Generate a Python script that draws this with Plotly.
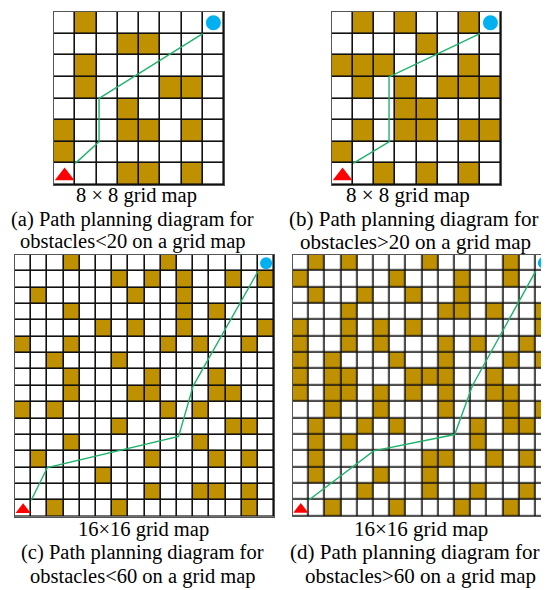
import plotly.graph_objects as go

W, H = 549, 590
OFF = 8  # the page body margin shifts the figure by 8px; compensate

# ---------------- data ----------------
# obstacle columns per row (row 0 = top row)
obs_a = [[1], [3, 4], [1], [1, 5, 6], [3], [0, 3, 4, 6], [0], [3, 4, 6]]
obs_b = [[1, 3, 6], [4], [0, 1, 2, 6], [1, 3, 5, 6, 7], [3, 4], [1, 3, 4, 6, 7], [0], [2, 4, 6]]
obs_c = [[3, 9], [6, 8, 10, 13, 15], [1, 7, 10], [3, 10, 12], [5, 7, 10, 15],
         [0, 3, 9, 11, 14], [2, 6], [3, 8, 12], [3, 7, 8, 12, 13], [0, 2, 9, 11],
         [6, 13, 14], [3, 11], [1, 8, 12, 14], [5], [8, 11, 12, 14], [2, 6, 14]]
obs_d = [[1, 3, 8, 13], [0, 6, 10, 13], [1, 4, 7, 10], [3, 9, 10, 12, 15],
         [0, 3, 5, 7, 15], [0, 3, 5, 9, 11, 14], [0, 2, 6, 9, 13, 15],
         [0, 2, 3, 7, 8, 9, 12], [0, 2, 3, 5, 7, 9, 12, 13], [2, 5, 9, 13, 15],
         [1, 4, 6, 11, 13, 14], [1, 3, 11], [1, 8, 9, 12, 14], [1, 5, 8],
         [4, 8, 11, 14], [2, 6, 10, 13]]

# path vertices (grid units, origin bottom-left)
path_a_x = [1, 2.12, 2.12, 7]
path_a_y = [1, 2, 4, 7]
path_b_x = [1, 2.7, 2.7, 7]
path_b_y = [1, 2, 5, 7]
path_c_x = [1, 2, 10.1, 11, 15]
path_c_y = [1, 3, 4.9, 8, 15]
path_d_x = [1, 5, 10, 11.1, 15]
path_d_y = [1, 4, 5, 8, 15]

size_label_8 = "8 × 8 grid map"
size_label_16 = "16×16 grid map"
caption_line1 = ["(a) Path planning diagram for", "(b) Path planning diagram for",
                 "(c) Path planning diagram for", "(d) Path planning diagram for"]
caption_line2 = ["obstacles&lt;20 on a grid map", "obstacles&gt;20 on a grid map",
                 "obstacles&lt;60 on a grid map", "obstacles&gt;60 on a grid map"]

# ---------------- layout of panels (window pixels) ----------------
panels = [
    dict(obs=obs_a, px=path_a_x, py=path_a_y, box=(54, 224, 12, 185), n=8, tri=17, circ=15,
         label=size_label_8, cx=(136, 132, 133), ty=(195, 219, 242), fs=20.5),
    dict(obs=obs_b, px=path_b_x, py=path_b_y, box=(332, 501, 12, 185), n=8, tri=17, circ=15,
         label=size_label_8, cx=(408, 414, 415), ty=(195, 219, 242), fs=21),
    dict(obs=obs_c, px=path_c_x, py=path_c_y, box=(15, 274.2, 255, 516.6), n=16, tri=13, circ=12,
         label=size_label_16, cx=(143, 142, 143), ty=(529, 552, 576), fs=20.5),
    dict(obs=obs_d, px=path_d_x, py=path_d_y, box=(292.7, 551.9, 254.7, 516.3), n=16, tri=13, circ=12,
         label=size_label_16, cx=(421, 415, 420), ty=(529, 552, 576), fs=21),
]

BROWN = "#BF9000"
GREEN = "#1DB36B"
BLUE = "#00B0F0"
RED = "#FF0000"
FONT = "Liberation Serif, Times New Roman, serif"

fig = go.Figure()
annotations = []


def fx(px):
    return (px - OFF) / W


def fy(py):
    return 1 - (py - OFF) / H


for i, p in enumerate(panels):
    n = p["n"]
    sfx = "" if i == 0 else str(i + 1)
    xa, ya = "x" + sfx, "y" + sfx
    z = []
    for yy in range(n):
        row = n - 1 - yy
        z.append([1 if c in p["obs"][row] else 0 for c in range(n)])
    centers = [k + 0.5 for k in range(n)]
    fig.add_trace(go.Heatmap(
        z=z, x=centers, y=centers, xaxis=xa, yaxis=ya,
        colorscale=[[0, "white"], [1, BROWN]], zmin=0, zmax=1,
        showscale=False, xgap=1.6, ygap=1.6, hoverinfo="skip"))
    fig.add_trace(go.Scatter(
        x=p["px"], y=p["py"], mode="lines", xaxis=xa, yaxis=ya,
        line=dict(color=GREEN, width=1.4), hoverinfo="skip", showlegend=False))
    fig.add_trace(go.Scatter(
        x=[0.5], y=[0.42], mode="markers", xaxis=xa, yaxis=ya,
        marker=dict(symbol="triangle-up", color=RED, size=p["tri"]),
        hoverinfo="skip", showlegend=False))
    fig.add_trace(go.Scatter(
        x=[n - 0.5], y=[n - 0.5], mode="markers", xaxis=xa, yaxis=ya,
        marker=dict(symbol="circle", color=BLUE, size=p["circ"]),
        hoverinfo="skip", showlegend=False, cliponaxis=False))

    x0, x1, y0, y1 = p["box"]
    axcommon = dict(showgrid=False, zeroline=False, showticklabels=False, ticks="",
                    showline=True, mirror=True, linecolor="#555555", linewidth=1)
    fig.layout["xaxis" + sfx] = dict(domain=[fx(x0), min(fx(x1), 1)], range=[0, n],
                                     anchor=ya, **axcommon)
    fig.layout["yaxis" + sfx] = dict(domain=[fy(y1), fy(y0)], range=[0, n],
                                     anchor=xa, **axcommon)

    texts = [p["label"], caption_line1[i], caption_line2[i]]
    for t, cx, ty in zip(texts, p["cx"], p["ty"]):
        annotations.append(dict(text=t, x=fx(cx), y=fy(ty),
                                xref="paper", yref="paper", showarrow=False,
                                font=dict(family=FONT, size=p["fs"], color="black"),
                                xanchor="center", yanchor="middle"))

fig.update_layout(width=W, height=H, margin=dict(l=0, r=0, t=0, b=0),
                  paper_bgcolor="white", plot_bgcolor="#111111",
                  showlegend=False, annotations=annotations)

fig.write_html("out.html")
